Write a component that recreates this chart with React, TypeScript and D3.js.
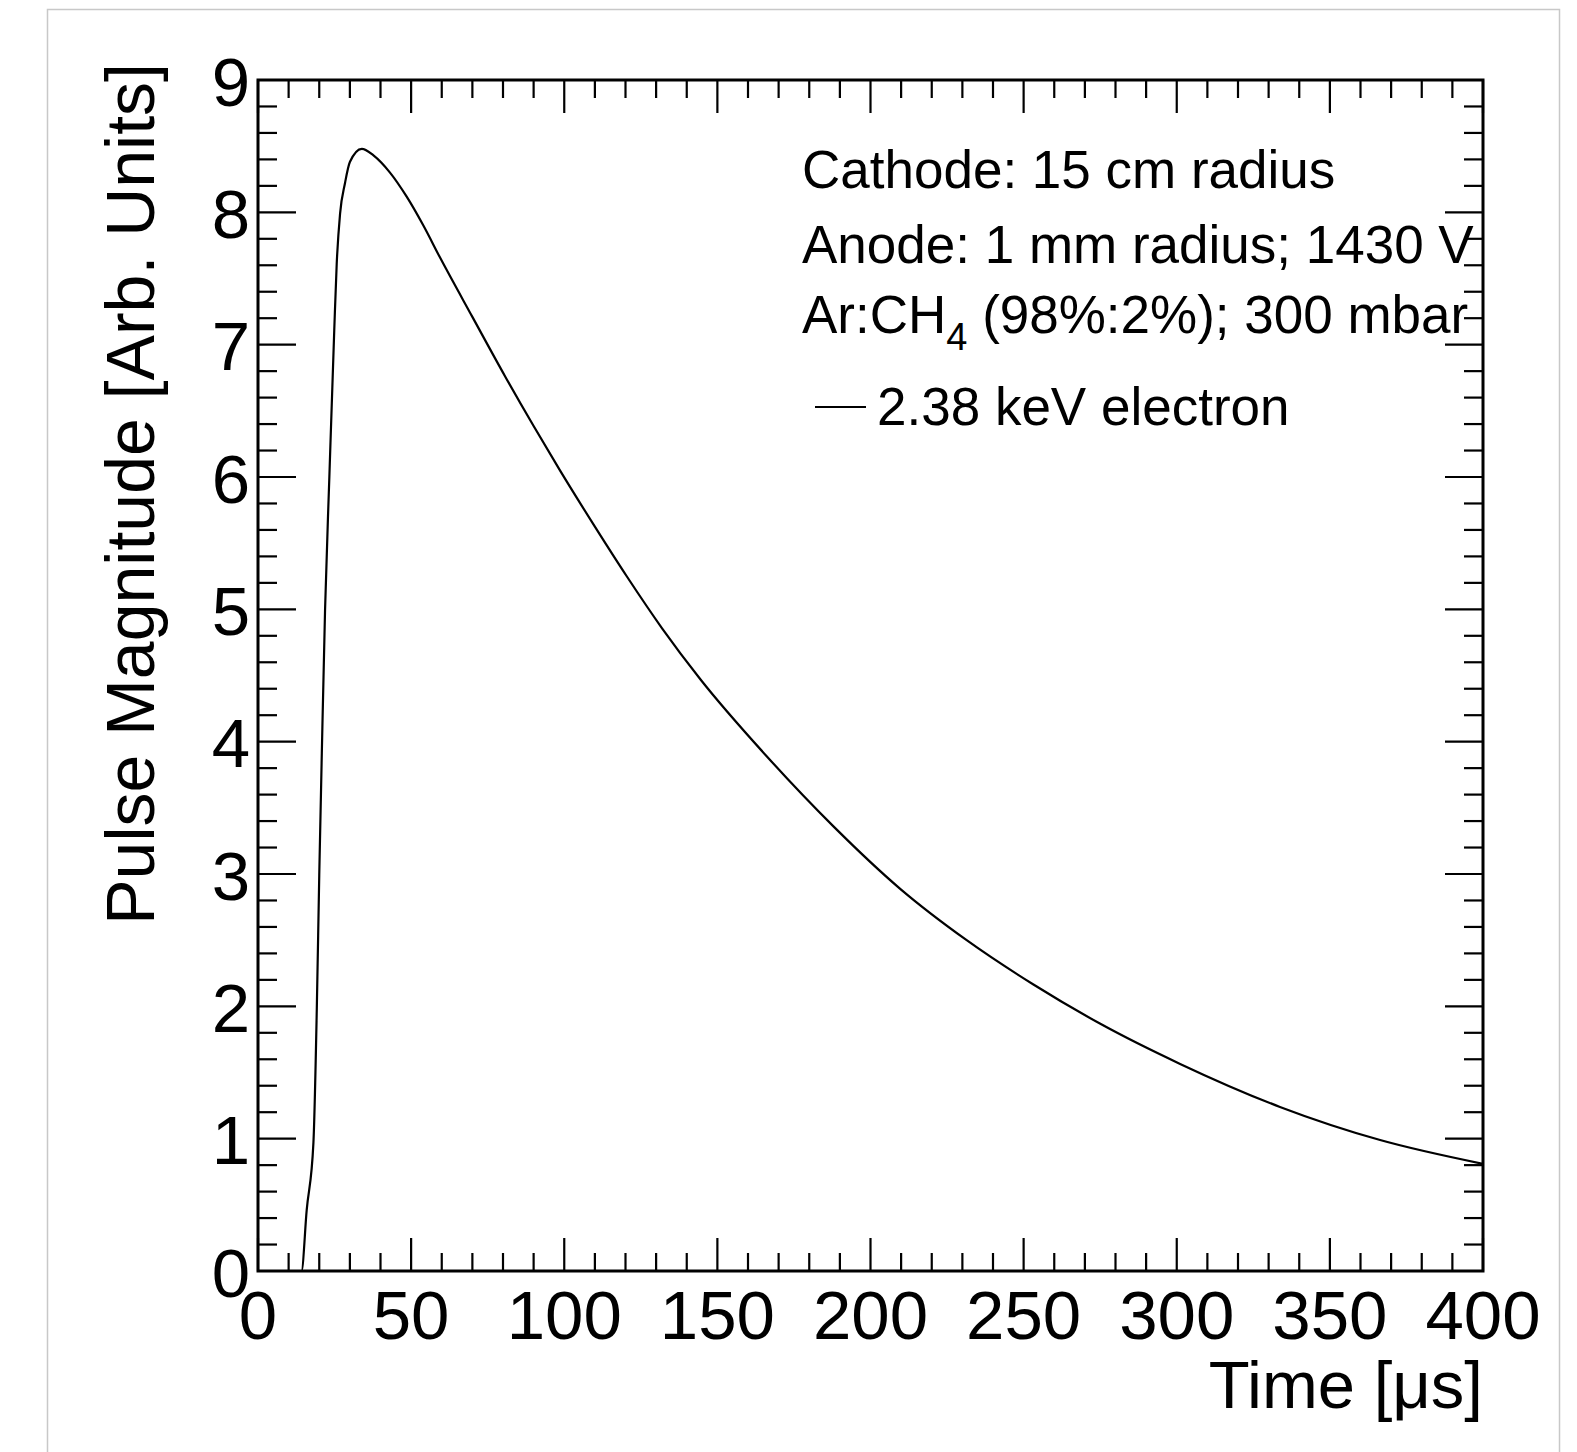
import React from "react";
import * as d3 from "d3";

// ---- data ----
const TIME_US = [
  0, 14.2, 15.9, 18.1, 19.2, 20.0, 20.9, 21.9, 23.3, 24.9, 25.7, 26.8, 28.4, 30.0,
  33.9, 37.7, 43.1, 48.5, 54.0, 59.4, 70, 80.7, 90, 98.6, 110, 120.4, 132, 144.5,
  166.1, 187.9, 209.6, 231.4, 253.2, 274.9, 301.1, 333.7, 366.4, 400,
];
const PULSE = [
  0, 0, 0.46, 0.97, 1.98, 2.99, 3.98, 5.0, 6.0, 7.11, 7.61, 7.99, 8.22, 8.38,
  8.48, 8.43, 8.3, 8.12, 7.9, 7.66, 7.21, 6.76, 6.385, 6.05, 5.625, 5.25, 4.855, 4.47,
  3.89, 3.36, 2.89, 2.5, 2.165, 1.87, 1.565, 1.24, 0.99, 0.81,
];
const X_MAJOR = [0, 50, 100, 150, 200, 250, 300, 350, 400];
const Y_MAJOR = [0, 1, 2, 3, 4, 5, 6, 7, 8, 9];
const X_TITLE = "Time [μs]";
const Y_TITLE = "Pulse Magnitude [Arb. Units]";
const INFO_LINES = ["Cathode: 15 cm radius", "Anode: 1 mm radius; 1430 V"];
const LEGEND_LABEL = "2.38 keV electron";

const W = 1577;
const H = 1452;
const L = 258, R = 1483, T = 80, B = 1271;
const FONT = "'Liberation Sans', Arial, Helvetica, sans-serif";

export default function App() {
  const x = d3.scaleLinear().domain([0, 400]).range([L, R]);
  const y = d3.scaleLinear().domain([0, 9]).range([B, T]);

  const pts = TIME_US.map((t, i) => [t, PULSE[i]] as [number, number]);
  const line = d3
    .line<[number, number]>()
    .x((d) => x(d[0]))
    .y((d) => y(d[1]))
    .curve(d3.curveMonotoneX);

  const xMinor = d3.range(0, 401, 10).filter((v) => v % 50 !== 0);
  const yMinor = d3.range(0, 45.01, 1).map((v) => v / 5).filter((v) => Math.abs(v - Math.round(v)) > 1e-6);

  const xMajLen = 33, xMinLen = 18, yMajLen = 38, yMinLen = 19;

  return (
    <svg
      width={W}
      height={H}
      style={{ position: "absolute", left: 0, top: 0, background: "#fff" }}
      fontFamily={FONT}
    >
      <rect x={0} y={0} width={W} height={H} fill="#fff" />
      <rect x={47.5} y={9.5} width={1512} height={1500} fill="none" stroke="#c8c8c8" strokeWidth={1.5} />

      <defs>
        <clipPath id="plotclip">
          <rect x={L} y={T - 2} width={R - L} height={B - T + 2} />
        </clipPath>
      </defs>

      {/* curve */}
      <path d={line(pts) || ""} fill="none" stroke="#000" strokeWidth={2.2} clipPath="url(#plotclip)" />

      {/* ticks */}
      <g stroke="#000" strokeWidth={2.2}>
        {X_MAJOR.map((v) => (
          <g key={"xm" + v}>
            <line x1={x(v)} x2={x(v)} y1={B} y2={B - xMajLen} />
            <line x1={x(v)} x2={x(v)} y1={T} y2={T + xMajLen} />
          </g>
        ))}
        {xMinor.map((v) => (
          <g key={"xn" + v}>
            <line x1={x(v)} x2={x(v)} y1={B} y2={B - xMinLen} />
            <line x1={x(v)} x2={x(v)} y1={T} y2={T + xMinLen} />
          </g>
        ))}
        {Y_MAJOR.map((v) => (
          <g key={"ym" + v}>
            <line x1={L} x2={L + yMajLen} y1={y(v)} y2={y(v)} />
            <line x1={R} x2={R - yMajLen} y1={y(v)} y2={y(v)} />
          </g>
        ))}
        {yMinor.map((v) => (
          <g key={"yn" + v}>
            <line x1={L} x2={L + yMinLen} y1={y(v)} y2={y(v)} />
            <line x1={R} x2={R - yMinLen} y1={y(v)} y2={y(v)} />
          </g>
        ))}
      </g>

      {/* frame */}
      <rect x={L} y={T} width={R - L} height={B - T} fill="none" stroke="#000" strokeWidth={3} />

      {/* tick labels */}
      <g fontSize={69} fill="#000">
        {X_MAJOR.map((v) => (
          <text key={"xl" + v} x={x(v)} y={1339} textAnchor="middle">
            {v}
          </text>
        ))}
        {Y_MAJOR.map((v) => (
          <text key={"yl" + v} x={250} y={y(v) + 25.5} textAnchor="end">
            {v}
          </text>
        ))}
      </g>

      {/* axis titles */}
      <text x={R} y={1408} fontSize={67} textAnchor="end" fill="#000">
        {X_TITLE}
      </text>
      <text transform="translate(154,63) rotate(-90)" fontSize={68} textAnchor="end" fill="#000">
        {Y_TITLE}
      </text>

      {/* info text */}
      <g fontSize={53} fill="#000">
        <text x={802} y={188}>{INFO_LINES[0]}</text>
        <text x={802} y={263}>{INFO_LINES[1]}</text>
        <text x={802} y={333}>
          Ar:CH
          <tspan fontSize={38} dy={17}>4</tspan>
          <tspan dy={-17}> (98%:2%); 300 mbar</tspan>
        </text>
        <line x1={815} x2={866} y1={407} y2={407} stroke="#000" strokeWidth={2.2} />
        <text x={877} y={425}>{LEGEND_LABEL}</text>
      </g>
    </svg>
  );
}
